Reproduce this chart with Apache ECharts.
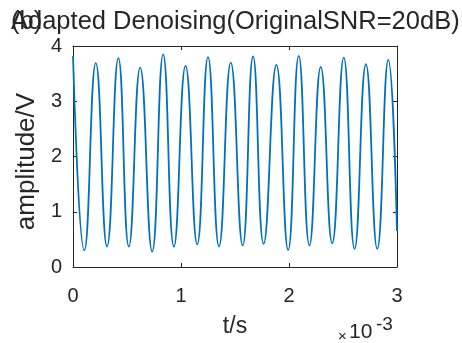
<!DOCTYPE html>
<html>
<head>
<meta charset="utf-8">
<script src="https://cdn.jsdelivr.net/npm/echarts@6/dist/echarts.min.js"></script>
<style>
  html, body { margin: 0; padding: 0; background: #fff; }
  #chart { width: 462px; height: 343px; }
</style>
</head>
<body>
<div id="chart"></div>
<script>
// time axis in units of 1e-3 s (peaks and troughs)
const tMs = [
  0, 0.105, 0.211, 0.315, 0.420, 0.517, 0.622, 0.733, 0.835, 0.934,
  1.042, 1.150, 1.250, 1.352, 1.461, 1.571, 1.667, 1.765, 1.883, 1.992,
  2.090, 2.189, 2.294, 2.400, 2.507, 2.607, 2.712, 2.817, 2.919, 3.000
]
const amplitude = [
  3.82, 0.30, 3.69, 0.37, 3.78, 0.37, 3.61, 0.28, 3.85, 0.37,
  3.64, 0.41, 3.80, 0.37, 3.70, 0.39, 3.81, 0.42, 3.66, 0.31,
  3.82, 0.39, 3.62, 0.43, 3.79, 0.33, 3.67, 0.33, 3.75, 0.65
]
const xRange = [0, 3]
const yRange = [0, 4]

const FONT = '"Liberation Sans", Arial, sans-serif'
const INK = '#262626'

const line = { show: true, onZero: false, lineStyle: { color: INK, width: 1 } }
const tick = { show: true, inside: true, length: 4, lineStyle: { color: INK, width: 1 } }
const label = { color: INK, fontSize: 20, fontFamily: FONT }
const titleText = { color: INK, fontSize: 25.5, fontWeight: 'normal', fontFamily: FONT }

const chart = echarts.init(document.getElementById('chart'), null, { renderer: 'canvas' })

chart.setOption({
  animation: false,
  backgroundColor: '#fff',
  title: [
    { text: 'Adapted Denoising(OriginalSNR=20dB)', left: 11, top: 9, padding: 0, textStyle: titleText },
    { text: '(b)', left: 11, top: 9, padding: 0, textStyle: titleText }
  ],
  grid: { left: 73, right: 65, top: 46, bottom: 73 },
  xAxis: [
    {
      type: 'value', position: 'bottom',
      min: xRange[0], max: xRange[1], interval: 1,
      axisLine: line, axisTick: tick,
      axisLabel: { ...label, margin: 19 },
      splitLine: { show: false },
      name: 't/s', nameLocation: 'middle', nameGap: 48,
      nameTextStyle: { color: INK, fontSize: 23, fontFamily: FONT }
    },
    {
      type: 'value', position: 'top',
      min: xRange[0], max: xRange[1], interval: 1,
      axisLine: line, axisTick: tick,
      axisLabel: { show: false }, splitLine: { show: false }
    }
  ],
  yAxis: [
    {
      type: 'value', position: 'left',
      min: yRange[0], max: yRange[1], interval: 1,
      axisLine: line, axisTick: tick,
      axisLabel: { ...label, margin: 11 },
      splitLine: { show: false },
      name: 'amplitude/V', nameLocation: 'middle', nameGap: 29,
      nameTextStyle: { color: INK, fontSize: 26, fontFamily: FONT, padding: [0, 10, 0, 0] }
    },
    {
      type: 'value', position: 'right',
      min: yRange[0], max: yRange[1], interval: 1,
      axisLine: line, axisTick: tick,
      axisLabel: { show: false }, splitLine: { show: false }
    }
  ],
  graphic: [
    {
      type: 'text', left: 338, top: 329,
      style: { text: '×', fill: INK, fontSize: 15, fontFamily: FONT }
    },
    {
      type: 'text', left: 349, top: 322,
      style: { text: '10', fill: INK, fontSize: 21, fontFamily: FONT }
    },
    {
      type: 'text', left: 376, top: 315,
      style: { text: '-3', fill: INK, fontSize: 19, fontFamily: FONT }
    }
  ],
  series: [
    {
      type: 'line',
      data: tMs.map((t, i) => [t, amplitude[i]]),
      smooth: 0.5,
      showSymbol: false,
      lineStyle: { color: '#0072BD', width: 1.8 },
      clip: true
    }
  ]
})
</script>
</body>
</html>
